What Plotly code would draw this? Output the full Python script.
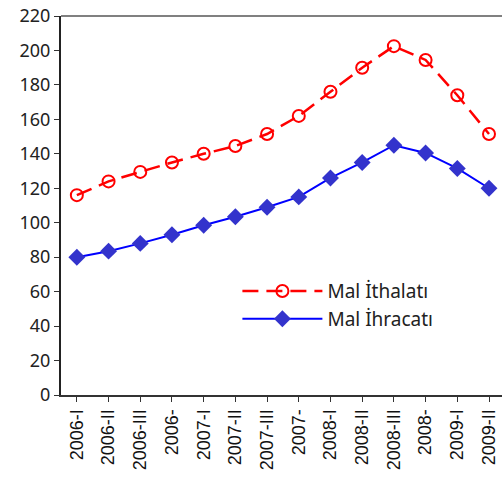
import plotly.graph_objects as go

quarters = ["2006-I", "2006-II", "2006-III", "2006-", "2007-I", "2007-II", "2007-III", "2007-",
            "2008-I", "2008-II", "2008-III", "2008-", "2009-I", "2009-II"]
ithalat = [116, 124, 129.5, 135, 140, 144.5, 151.5, 162, 176, 190, 202.5, 194.5, 174, 151.5]
ihracat = [80, 83.5, 88, 93, 98.5, 103.5, 109, 115, 126, 135, 145, 140.5, 131.5, 120]
y_ticks = list(range(0, 221, 20))

x_idx = list(range(len(quarters)))

fig = go.Figure()
fig.add_trace(go.Scatter(
    x=x_idx, y=ithalat, name="Mal İthalatı", mode="lines+markers",
    line=dict(color="#FF0000", width=2.5, dash="16px,8px"),
    marker=dict(symbol="circle-open", size=12, color="#FF0000", line=dict(width=2, color="#FF0000")),
))
fig.add_trace(go.Scatter(
    x=x_idx, y=ihracat, name="Mal İhracatı", mode="lines+markers",
    line=dict(color="#0000FF", width=2),
    marker=dict(symbol="diamond", size=13, color="#3333CC"),
))

fig.update_layout(
    width=502, height=485,
    margin=dict(l=61, r=0, t=16, b=90),
    paper_bgcolor="white", plot_bgcolor="white",
    showlegend=True,
    legend=dict(x=0.40, y=0.237, xanchor="left", yanchor="middle",
                font=dict(family="Noto Sans", size=19, color="#222222"),
                bgcolor="rgba(0,0,0,0)", itemwidth=80, tracegroupgap=0),
    xaxis=dict(
        range=[-0.5, 13.41], tickmode="array", tickvals=x_idx, ticktext=quarters,
        tickangle=-90, tickson="boundaries", ticks="outside", ticklen=5,
        tickcolor="#333333", showline=True, linecolor="#333333", linewidth=2,
        showgrid=False, zeroline=False,
        tickfont=dict(family="Liberation Sans", size=18, color="#111111"),
    ),
    yaxis=dict(
        range=[0, 220], tickmode="array", tickvals=y_ticks,
        ticks="outside", ticklen=5, tickcolor="#333333",
        showline=True, linecolor="#222222", linewidth=2,
        showgrid=False, zeroline=False,
        tickfont=dict(family="Noto Sans", size=18, color="#222222"),
    ),
    shapes=[dict(type="line", xref="paper", yref="paper", x0=0, x1=1, y0=1, y1=1,
                 line=dict(color="#808080", width=2))],
)

fig.write_html("out.html")
